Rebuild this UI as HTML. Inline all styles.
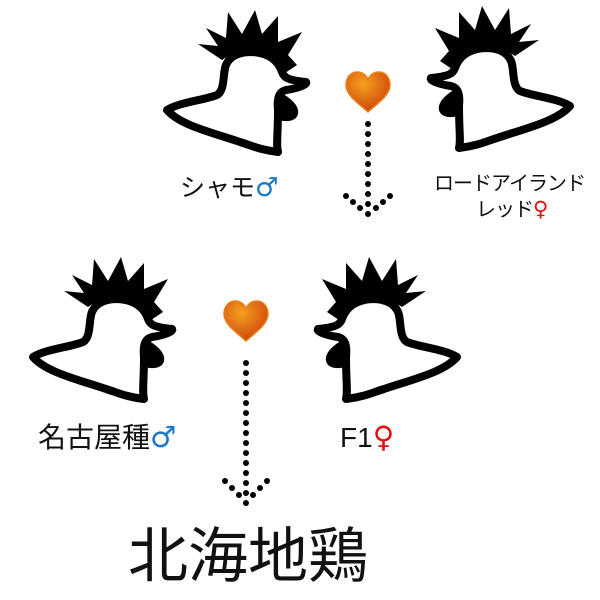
<!DOCTYPE html>
<html><head><meta charset="utf-8"><style>
body{margin:0;width:600px;height:600px;background:#fff;overflow:hidden;position:relative;font-family:"Liberation Sans","Noto Sans CJK JP",sans-serif}
.t{position:absolute;white-space:nowrap;color:#111;line-height:1}
.m{color:#1a78c8;font-family:"DejaVu Sans",sans-serif;font-size:1.05em}.f{color:#e01010;font-family:"DejaVu Sans",sans-serif;font-size:1.05em}
</style></head><body>
<svg width="600" height="600" style="position:absolute;left:0;top:0">
<defs>
<g id="r">
<path d="M7,100 C20,92 45,90 57,85 C66,80 62,60 67,53 C72,44 82,42 92,42 C108,43 118,50 122,62 C124,68 128,70 146,72 C148,74 140,78 126,80 C118,82 117,90 118,100 C118,125 116,135 118,142 C100,140 90,135 80,132 C50,122 20,115 7,100 Z" fill="none" stroke="#000" stroke-width="8" stroke-linejoin="round"/>
<path d="M119,82 C128,86 140,95 138,104 C136,112 126,112 118,110 Z" fill="#000"/>
<path d="M62,50 L38,34 L58,36 L46,18 L66,28 L68,2 L82,24 L95,0 L102,24 L118,6 L118,32 L142,22 L128,45 L137,55 L125,63 C118,50 108,43 92,42 C80,42 70,44 62,50 Z" fill="#000"/>
</g>
<radialGradient id="h" cx="0.4" cy="0.3" r="0.8"><stop offset="0" stop-color="#f5a020"/><stop offset="1" stop-color="#c83a08"/></radialGradient>
<g id="heart"><path d="M0,19 C-10,10 -22,2 -22,-8 C-22,-17 -16,-21 -11,-21 C-5,-21 -1,-17 0,-13 C1,-17 5,-21 11,-21 C16,-21 22,-17 22,-8 C22,2 10,10 0,19 Z" fill="url(#h)" stroke="#e8801a" stroke-width="1.5"/></g>
</defs>
<use href="#r" transform="translate(160,10)"/>
<use href="#r" transform="translate(577,6) scale(-1,1)"/>
<use href="#r" transform="translate(26,257)"/>
<use href="#r" transform="translate(464,257) scale(-1,1)"/>
<use href="#heart" transform="translate(368,93)"/>
<use href="#heart" transform="translate(246,322)"/>
<g fill="#000">
<circle cx="368" cy="124" r="3"/><circle cx="368" cy="134" r="3"/><circle cx="368" cy="144" r="3"/><circle cx="368" cy="154" r="3"/><circle cx="368" cy="164" r="3"/><circle cx="368" cy="174" r="3"/><circle cx="368" cy="184" r="3"/><circle cx="368" cy="194" r="3"/><circle cx="368" cy="204" r="3"/><circle cx="368" cy="214" r="3"/>
<circle cx="346" cy="196" r="3"/><circle cx="353" cy="202" r="3"/><circle cx="360" cy="208" r="3"/><circle cx="390" cy="196" r="3"/><circle cx="383" cy="202" r="3"/><circle cx="376" cy="208" r="3"/>
<circle cx="246" cy="363" r="3"/><circle cx="246" cy="373" r="3"/><circle cx="246" cy="383" r="3"/><circle cx="246" cy="393" r="3"/><circle cx="246" cy="403" r="3"/><circle cx="246" cy="413" r="3"/><circle cx="246" cy="423" r="3"/><circle cx="246" cy="433" r="3"/><circle cx="246" cy="443" r="3"/><circle cx="246" cy="453" r="3"/><circle cx="246" cy="463" r="3"/><circle cx="246" cy="473" r="3"/><circle cx="246" cy="483" r="3"/><circle cx="246" cy="493" r="3"/><circle cx="246" cy="503" r="3"/>
<circle cx="225" cy="481" r="3"/><circle cx="232" cy="488" r="3"/><circle cx="239" cy="495" r="3"/><circle cx="267" cy="481" r="3"/><circle cx="260" cy="488" r="3"/><circle cx="253" cy="495" r="3"/>
</g>
</svg>
<div class="t" style="left:180px;top:175px;font-size:25px">シャモ<span class="m">♂</span></div>
<div class="t" style="left:434px;top:174px;font-size:20px;letter-spacing:-1px">ロードアイランド</div>
<div class="t" style="left:476px;top:199px;font-size:20px;letter-spacing:-1px">レッド<span class="f">♀</span></div>
<div class="t" style="left:38px;top:423px;font-size:28px">名古屋種<span class="m">♂</span></div>
<div class="t" style="left:340px;top:423px;font-size:28px">F1<span class="f">♀</span></div>
<div class="t" style="left:128px;top:522px;font-size:60px;font-weight:400;font-family:'Noto Sans CJK JP',sans-serif">北海地鶏</div>
</body></html>
